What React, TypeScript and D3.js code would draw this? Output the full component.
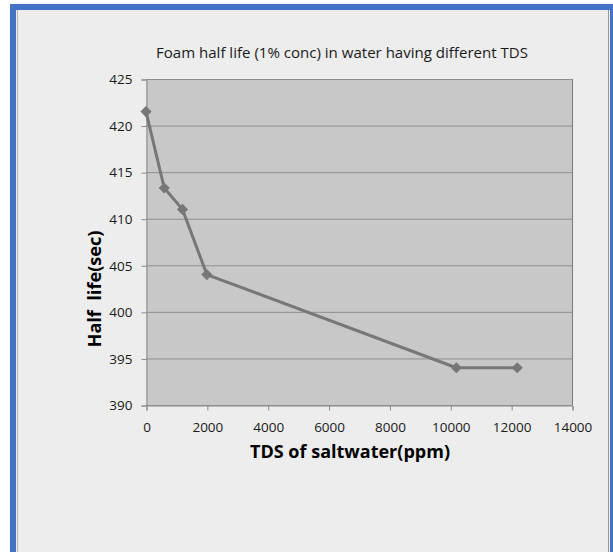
import React, { useEffect, useRef } from "react";
import * as d3 from "d3";

// readings taken off the chart
const tds = [0, 600, 1200, 2000, 10200, 12200];
const halfLife = [421.5, 413.3, 411, 404, 394, 394];
const xTicks = [0, 2000, 4000, 6000, 8000, 10000, 12000, 14000];
const yTicks = [390, 395, 400, 405, 410, 415, 420, 425];

const title = "Foam half life (1% conc) in water having different TDS";
const xTitle = "TDS of saltwater(ppm)";
const yTitle = "Half  life(sec)";

const App = () => {
  const ref = useRef<SVGSVGElement | null>(null);

  useEffect(() => {
    document.body.style.margin = "0";
    const svg = d3.select(ref.current);
    svg.selectAll("*").remove();

    const W = 613,
      H = 552;
    const plot = { left: 146, right: 572, top: 79, bottom: 405 };

    // frame
    svg.append("rect").attr("width", W).attr("height", H).attr("fill", "#ffffff");
    svg.append("rect").attr("x", 10).attr("y", 4).attr("width", W).attr("height", H)
      .attr("fill", "#4472c4");
    svg.append("rect").attr("x", 16).attr("y", 10).attr("width", 594).attr("height", H)
      .attr("fill", "#ededed");
    svg.append("line").attr("x1", 17.5).attr("x2", 17.5).attr("y1", 10).attr("y2", H)
      .attr("stroke", "#b4b4b4").attr("stroke-width", 1);
    svg.append("line").attr("x1", 608.5).attr("x2", 608.5).attr("y1", 10).attr("y2", H)
      .attr("stroke", "#9a9a9a").attr("stroke-width", 1);

    var x = d3.scaleLinear().domain([0, 14000]).range([plot.left, plot.right]);
    var y = d3.scaleLinear().domain([390, 425]).range([plot.bottom, plot.top]);

    // plot area
    svg.append("rect")
      .attr("x", plot.left).attr("y", plot.top)
      .attr("width", plot.right - plot.left).attr("height", plot.bottom - plot.top)
      .attr("fill", "#c8c8c8");

    svg.append("g").selectAll("line")
      .data(yTicks)
      .enter()
      .append("line")
      .attr("x1", plot.left).attr("x2", plot.right)
      .attr("y1", (d) => y(d) + 0.5).attr("y2", (d) => y(d) + 0.5)
      .attr("stroke", "#8e8e8e").attr("stroke-width", 1);

    svg.append("line")
      .attr("x1", plot.right + 0.5).attr("x2", plot.right + 0.5)
      .attr("y1", plot.top).attr("y2", plot.bottom)
      .attr("stroke", "#7a7a7a");

    // axes
    const yAxis = d3.axisLeft(y).tickValues(yTicks).tickSize(5).tickPadding(9);
    const xAxis = d3.axisBottom(x).tickValues(xTicks).tickSize(5).tickPadding(9)
      .tickFormat(d3.format("d"));

    const gy = svg.append("g")
      .attr("transform", "translate(" + (plot.left + 0.5) + ",0.5)")
      .call(yAxis);
    const gx = svg.append("g")
      .attr("transform", "translate(0.5," + (plot.bottom + 0.5) + ")")
      .call(xAxis);

    [gx, gy].forEach((g) => {
      g.select(".domain").attr("stroke", "#8a8a8a");
      g.selectAll(".tick line").attr("stroke", "#8a8a8a");
      g.selectAll(".tick text")
        .style("font-family", "Open Sans")
        .style("font-size", "13.5px")
        .attr("fill", "#1a1a1a");
    });
    gx.selectAll(".tick text").attr("dy", "0.9em");

    // series
    const pts = tds.map((t, i) => [t, halfLife[i]] as [number, number]);
    svg.append("path")
      .datum(pts)
      .attr("fill", "none")
      .attr("stroke", "#777777")
      .attr("stroke-width", 3)
      .attr("stroke-linejoin", "round")
      .attr("d", d3.line<[number, number]>().x((d) => x(d[0])).y((d) => y(d[1])));

    svg.append("g").selectAll("path")
      .data(pts)
      .enter()
      .append("path")
      .attr("transform", (d) => "translate(" + x(d[0]) + "," + y(d[1]) + ")")
      .attr("d", d3.symbol().type(d3.symbolDiamond2).size(80)())
      .attr("fill", "#777777");

    // titles
    svg.append("text")
      .attr("x", 342).attr("y", 58)
      .attr("text-anchor", "middle")
      .attr("textLength", 372)
      .attr("lengthAdjust", "spacingAndGlyphs")
      .style("font-family", "Open Sans")
      .style("font-size", "14px")
      .attr("fill", "#1a1a1a")
      .text(title);

    svg.append("text")
      .attr("x", 350).attr("y", 458)
      .attr("text-anchor", "middle")
      .attr("textLength", 200)
      .attr("lengthAdjust", "spacingAndGlyphs")
      .style("font-family", "Open Sans")
      .style("font-size", "18px")
      .style("font-weight", "bold")
      .attr("fill", "#000")
      .text(xTitle);

    svg.append("text")
      .attr("transform", "translate(101,289) rotate(-90)")
      .attr("text-anchor", "middle")
      .attr("textLength", 117)
      .attr("lengthAdjust", "spacingAndGlyphs")
      .style("font-family", "Open Sans")
      .style("font-size", "18px")
      .style("font-weight", "bold")
      .style("white-space", "pre")
      .attr("fill", "#000")
      .text(yTitle);
  }, []);

  return (
    <div style={{ position: "absolute", left: 0, top: 0 }}>
      <svg ref={ref} width={613} height={552} style={{ display: "block" }} />
    </div>
  );
};

export default App;
